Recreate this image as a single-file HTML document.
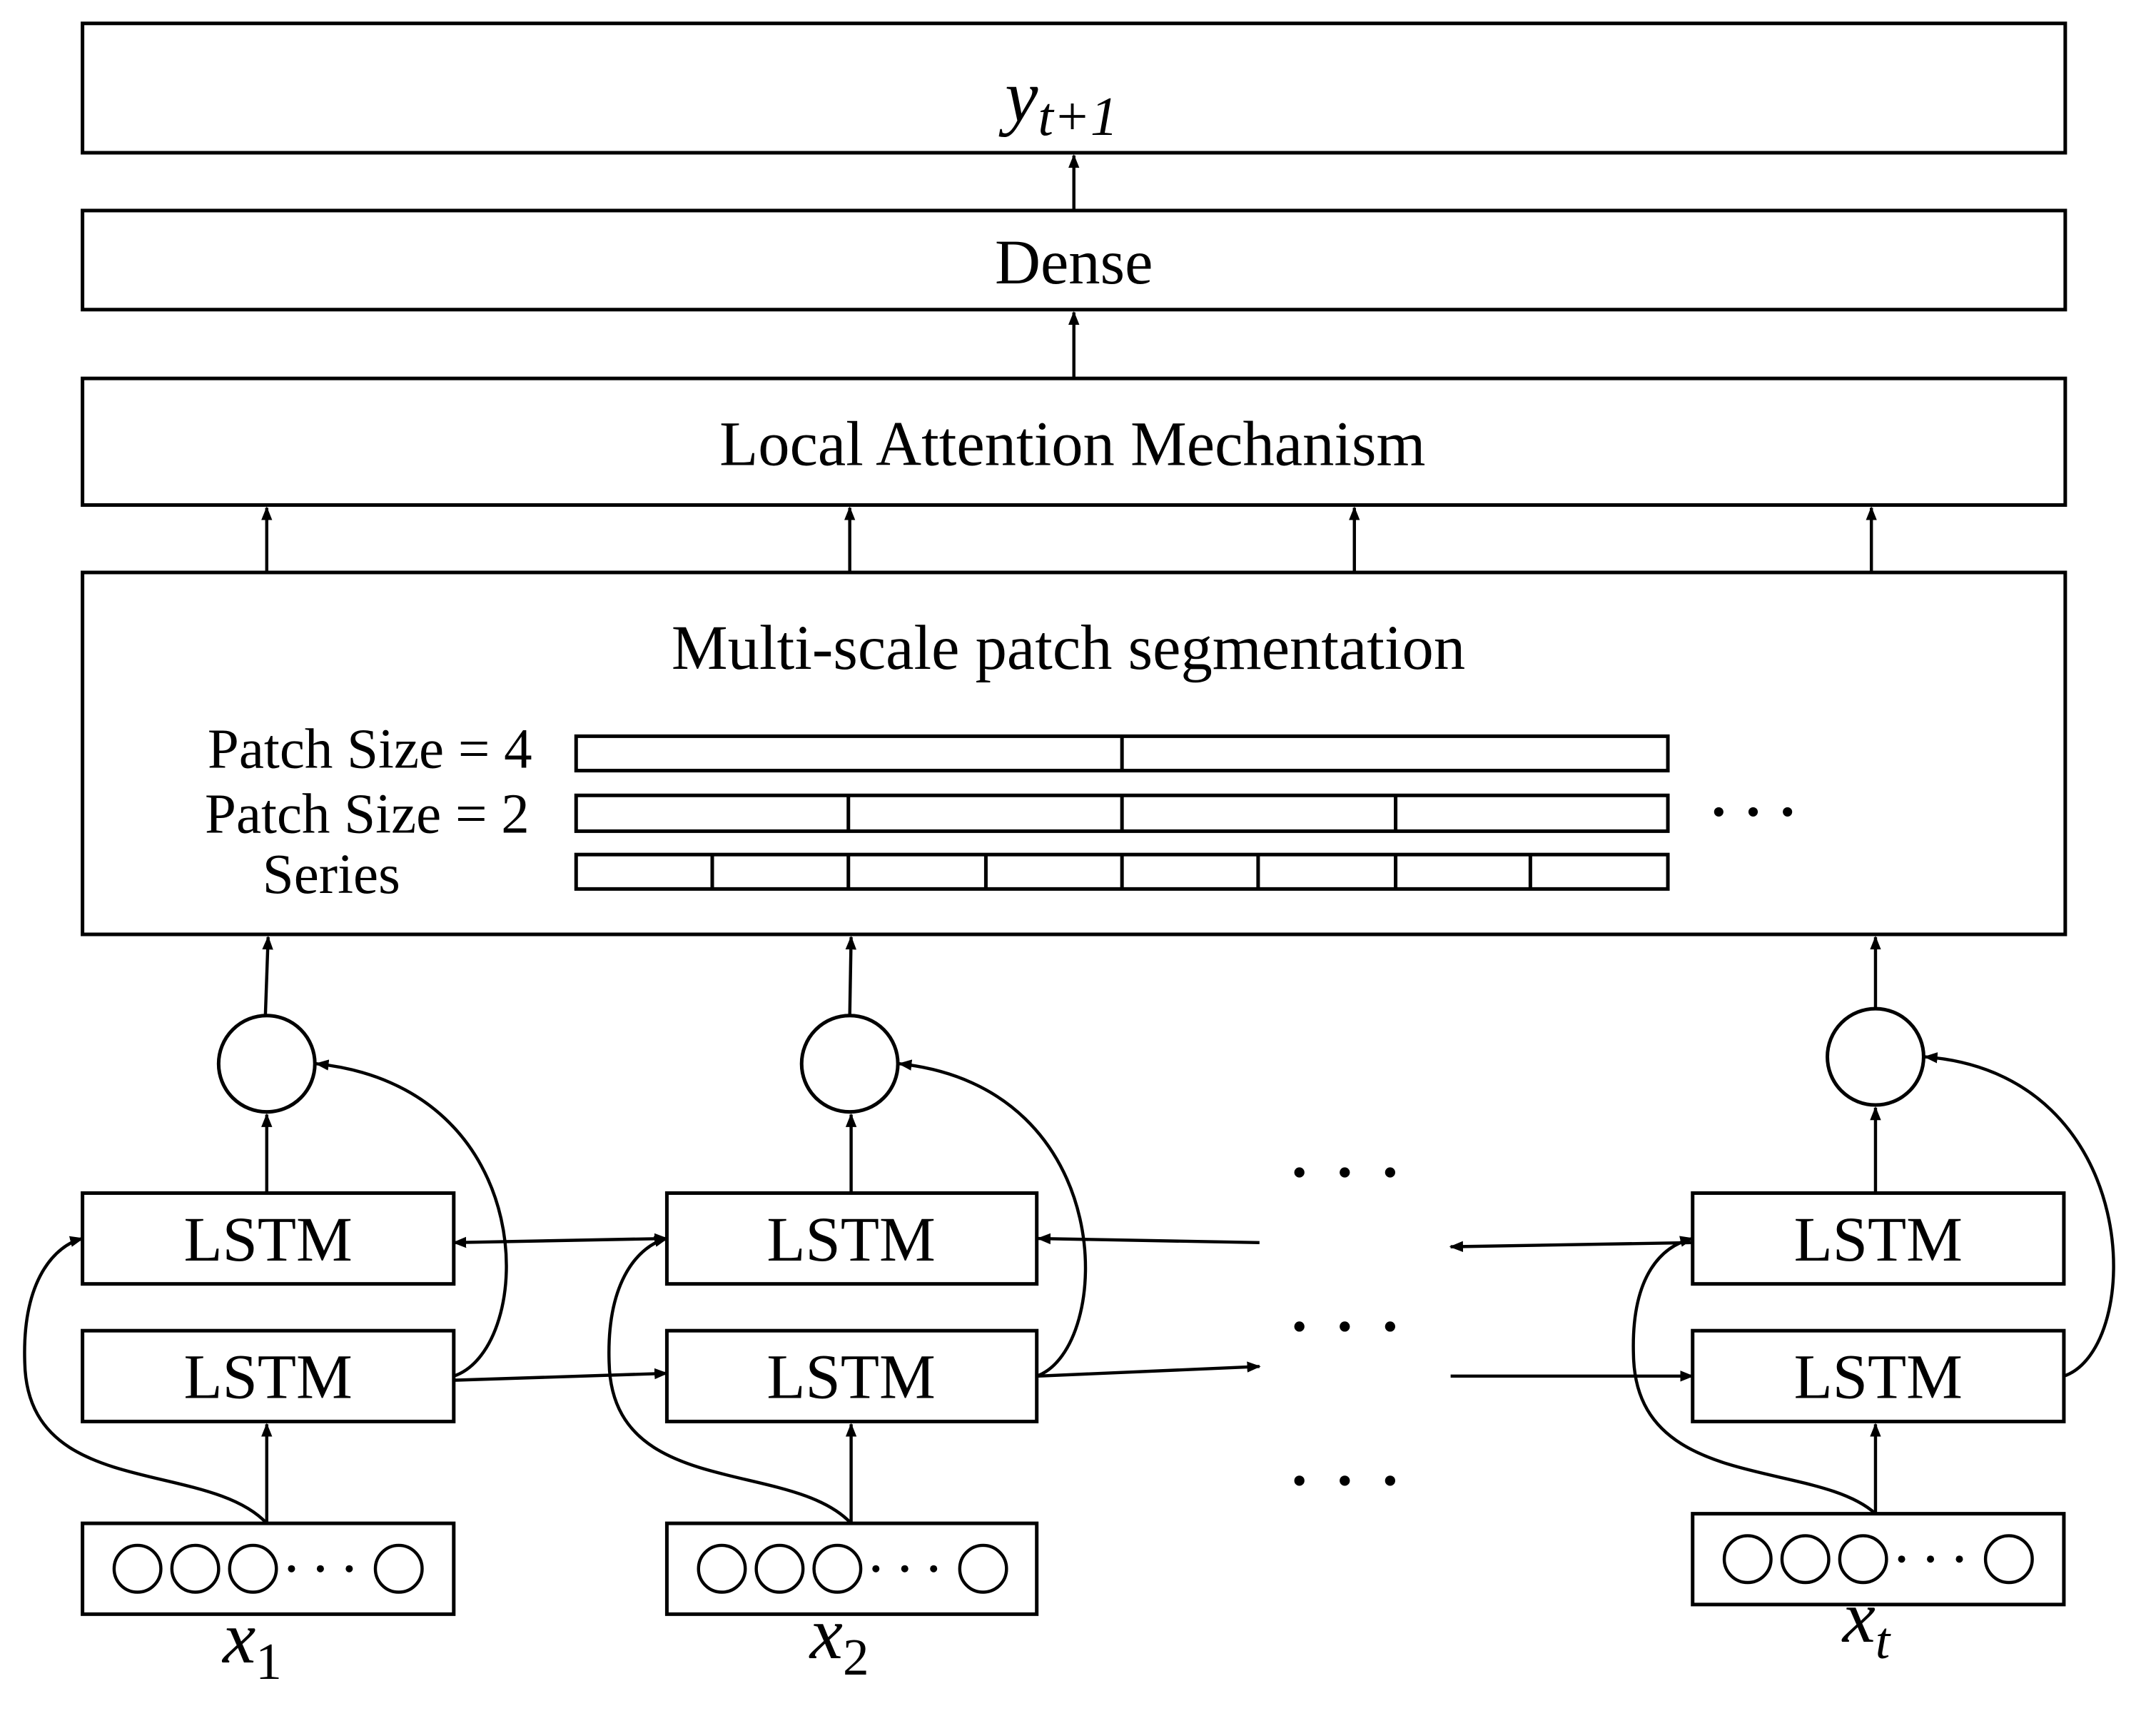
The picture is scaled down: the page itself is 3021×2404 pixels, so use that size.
<!DOCTYPE html>
<html><head><meta charset="utf-8"><style>
html,body{margin:0;padding:0;background:#fff;}
svg{display:block;}
text{font-family:"Liberation Serif",serif;fill:#000;}
</style></head><body>
<svg width="3021" height="2404" viewBox="0 0 1568 1247" preserveAspectRatio="none" xmlns="http://www.w3.org/2000/svg">
<defs>
<marker id="a" viewBox="0 0 10 10" refX="9" refY="5" markerWidth="10" markerHeight="10" orient="auto-start-reverse" markerUnits="userSpaceOnUse">
<path d="M0,1 L10,5 L0,9 Z" fill="#000"/></marker>
</defs>
<g fill="none" stroke="#000" stroke-width="2.6">
<rect x="60" y="17" width="1442" height="94"/>
<rect x="60" y="153" width="1442" height="72"/>
<rect x="60" y="275" width="1442" height="92"/>
<rect x="60" y="416" width="1442" height="263"/>
<rect x="419" y="535" width="794" height="25"/>
<rect x="419" y="578" width="794" height="26"/>
<rect x="419" y="621" width="794" height="25"/>
<path d="M816,535V560 M617,578V604 M816,578V604 M1015,578V604 M518,621V646 M617,621V646 M717,621V646 M816,621V646 M915,621V646 M1015,621V646 M1113,621V646"/>
<rect x="60" y="867" width="270" height="66"/>
<rect x="485" y="867" width="269" height="66"/>
<rect x="1231" y="867" width="270" height="66"/>
<rect x="60" y="967" width="270" height="66"/>
<rect x="485" y="967" width="269" height="66"/>
<rect x="1231" y="967" width="270" height="66"/>
<rect x="60" y="1107" width="270" height="66"/>
<rect x="485" y="1107" width="269" height="66"/>
<rect x="1231" y="1100" width="270" height="66"/>
<circle cx="194" cy="773" r="35"/>
<circle cx="618" cy="773" r="35"/>
<circle cx="1364" cy="768" r="35"/>
<g stroke-width="2.3">
<circle cx="100" cy="1140" r="17"/><circle cx="142" cy="1140" r="17"/><circle cx="184" cy="1140" r="17"/><circle cx="290" cy="1140" r="17"/>
<circle cx="525" cy="1140" r="17"/><circle cx="567" cy="1140" r="17"/><circle cx="609" cy="1140" r="17"/><circle cx="715" cy="1140" r="17"/>
<circle cx="1271" cy="1133" r="17"/><circle cx="1313" cy="1133" r="17"/><circle cx="1355" cy="1133" r="17"/><circle cx="1461" cy="1133" r="17"/>
</g>
</g>
<g fill="none" stroke="#000" stroke-width="2.3" marker-end="url(#a)">
<path d="M781,153V113"/><path d="M781,275V227"/>
<path d="M194,416V369"/><path d="M618,416V369"/><path d="M985,416V369"/><path d="M1361,416V369"/>
<path d="M193,738L195,681"/><path d="M618,738L619,681"/><path d="M1364,733V681"/>
<path d="M194,867V810"/><path d="M619,867V810"/><path d="M1364,867V805"/>
<path d="M194,1107V1035"/><path d="M619,1107V1035"/><path d="M1364,1100V1035"/>
<path d="M330,1000C390,980 395,790 230,773"/>
<path d="M754,1000C810,980 815,790 654,773"/>
<path d="M1501,1000C1560,980 1560,780 1400,768"/>
<path d="M194,1107C150,1060 20,1090 18,990C16,930 40,905 60,900"/>
<path d="M619,1107C575,1060 445,1090 443,990C441,930 465,905 485,900"/>
<path d="M1364,1100C1320,1060 1190,1085 1188,985C1186,925 1210,905 1231,900"/>
<path d="M330,903L485,900" marker-start="url(#a)"/>
<path d="M330,1003L485,998"/>
<path d="M916,903L755,900"/>
<path d="M755,1000L916,993"/>
<path d="M1231,903L1055,906"/>
<path d="M1055,1000L1231,1000"/>
</g>
<g fill="#000">
<circle cx="1250" cy="590" r="3.4"/><circle cx="1275" cy="590" r="3.4"/><circle cx="1300" cy="590" r="3.4"/>
<circle cx="945" cy="852" r="3.7"/><circle cx="978" cy="852" r="3.7"/><circle cx="1011" cy="852" r="3.7"/>
<circle cx="945" cy="964" r="3.7"/><circle cx="978" cy="964" r="3.7"/><circle cx="1011" cy="964" r="3.7"/>
<circle cx="945" cy="1076" r="3.7"/><circle cx="978" cy="1076" r="3.7"/><circle cx="1011" cy="1076" r="3.7"/>
<circle cx="212" cy="1140" r="2.6"/><circle cx="233" cy="1140" r="2.6"/><circle cx="254" cy="1140" r="2.6"/>
<circle cx="637" cy="1140" r="2.6"/><circle cx="658" cy="1140" r="2.6"/><circle cx="679" cy="1140" r="2.6"/>
<circle cx="1383" cy="1133" r="2.6"/><circle cx="1404" cy="1133" r="2.6"/><circle cx="1425" cy="1133" r="2.6"/>
</g>
<text x="772" y="88" font-size="54" font-style="italic" text-anchor="middle">y<tspan font-size="40" dy="10">t+1</tspan></text>
<text x="781" y="206" font-size="46" text-anchor="middle">Dense</text>
<text x="780" y="338" font-size="46" text-anchor="middle">Local Attention Mechanism</text>
<text x="777" y="486" font-size="46" text-anchor="middle">Multi-scale patch segmentation</text>
<text x="387" y="558" font-size="41" text-anchor="end">Patch Size = 4</text>
<text x="385" y="605" font-size="41" text-anchor="end">Patch Size = 2</text>
<text x="241" y="649" font-size="41" text-anchor="middle">Series</text>
<g font-size="46" text-anchor="middle">
<text x="195" y="916">LSTM</text><text x="619" y="916">LSTM</text><text x="1366" y="916">LSTM</text>
<text x="195" y="1016">LSTM</text><text x="619" y="1016">LSTM</text><text x="1366" y="1016">LSTM</text>
</g>
<text x="162" y="1208" font-size="54" font-style="italic">x<tspan font-size="38" dy="12" font-style="normal">1</tspan></text>
<text x="589" y="1205" font-size="54" font-style="italic">x<tspan font-size="38" dy="12" font-style="normal">2</tspan></text>
<text x="1340" y="1193" font-size="54" font-style="italic">x<tspan font-size="38" dy="12">t</tspan></text>
</svg>
</body></html>
